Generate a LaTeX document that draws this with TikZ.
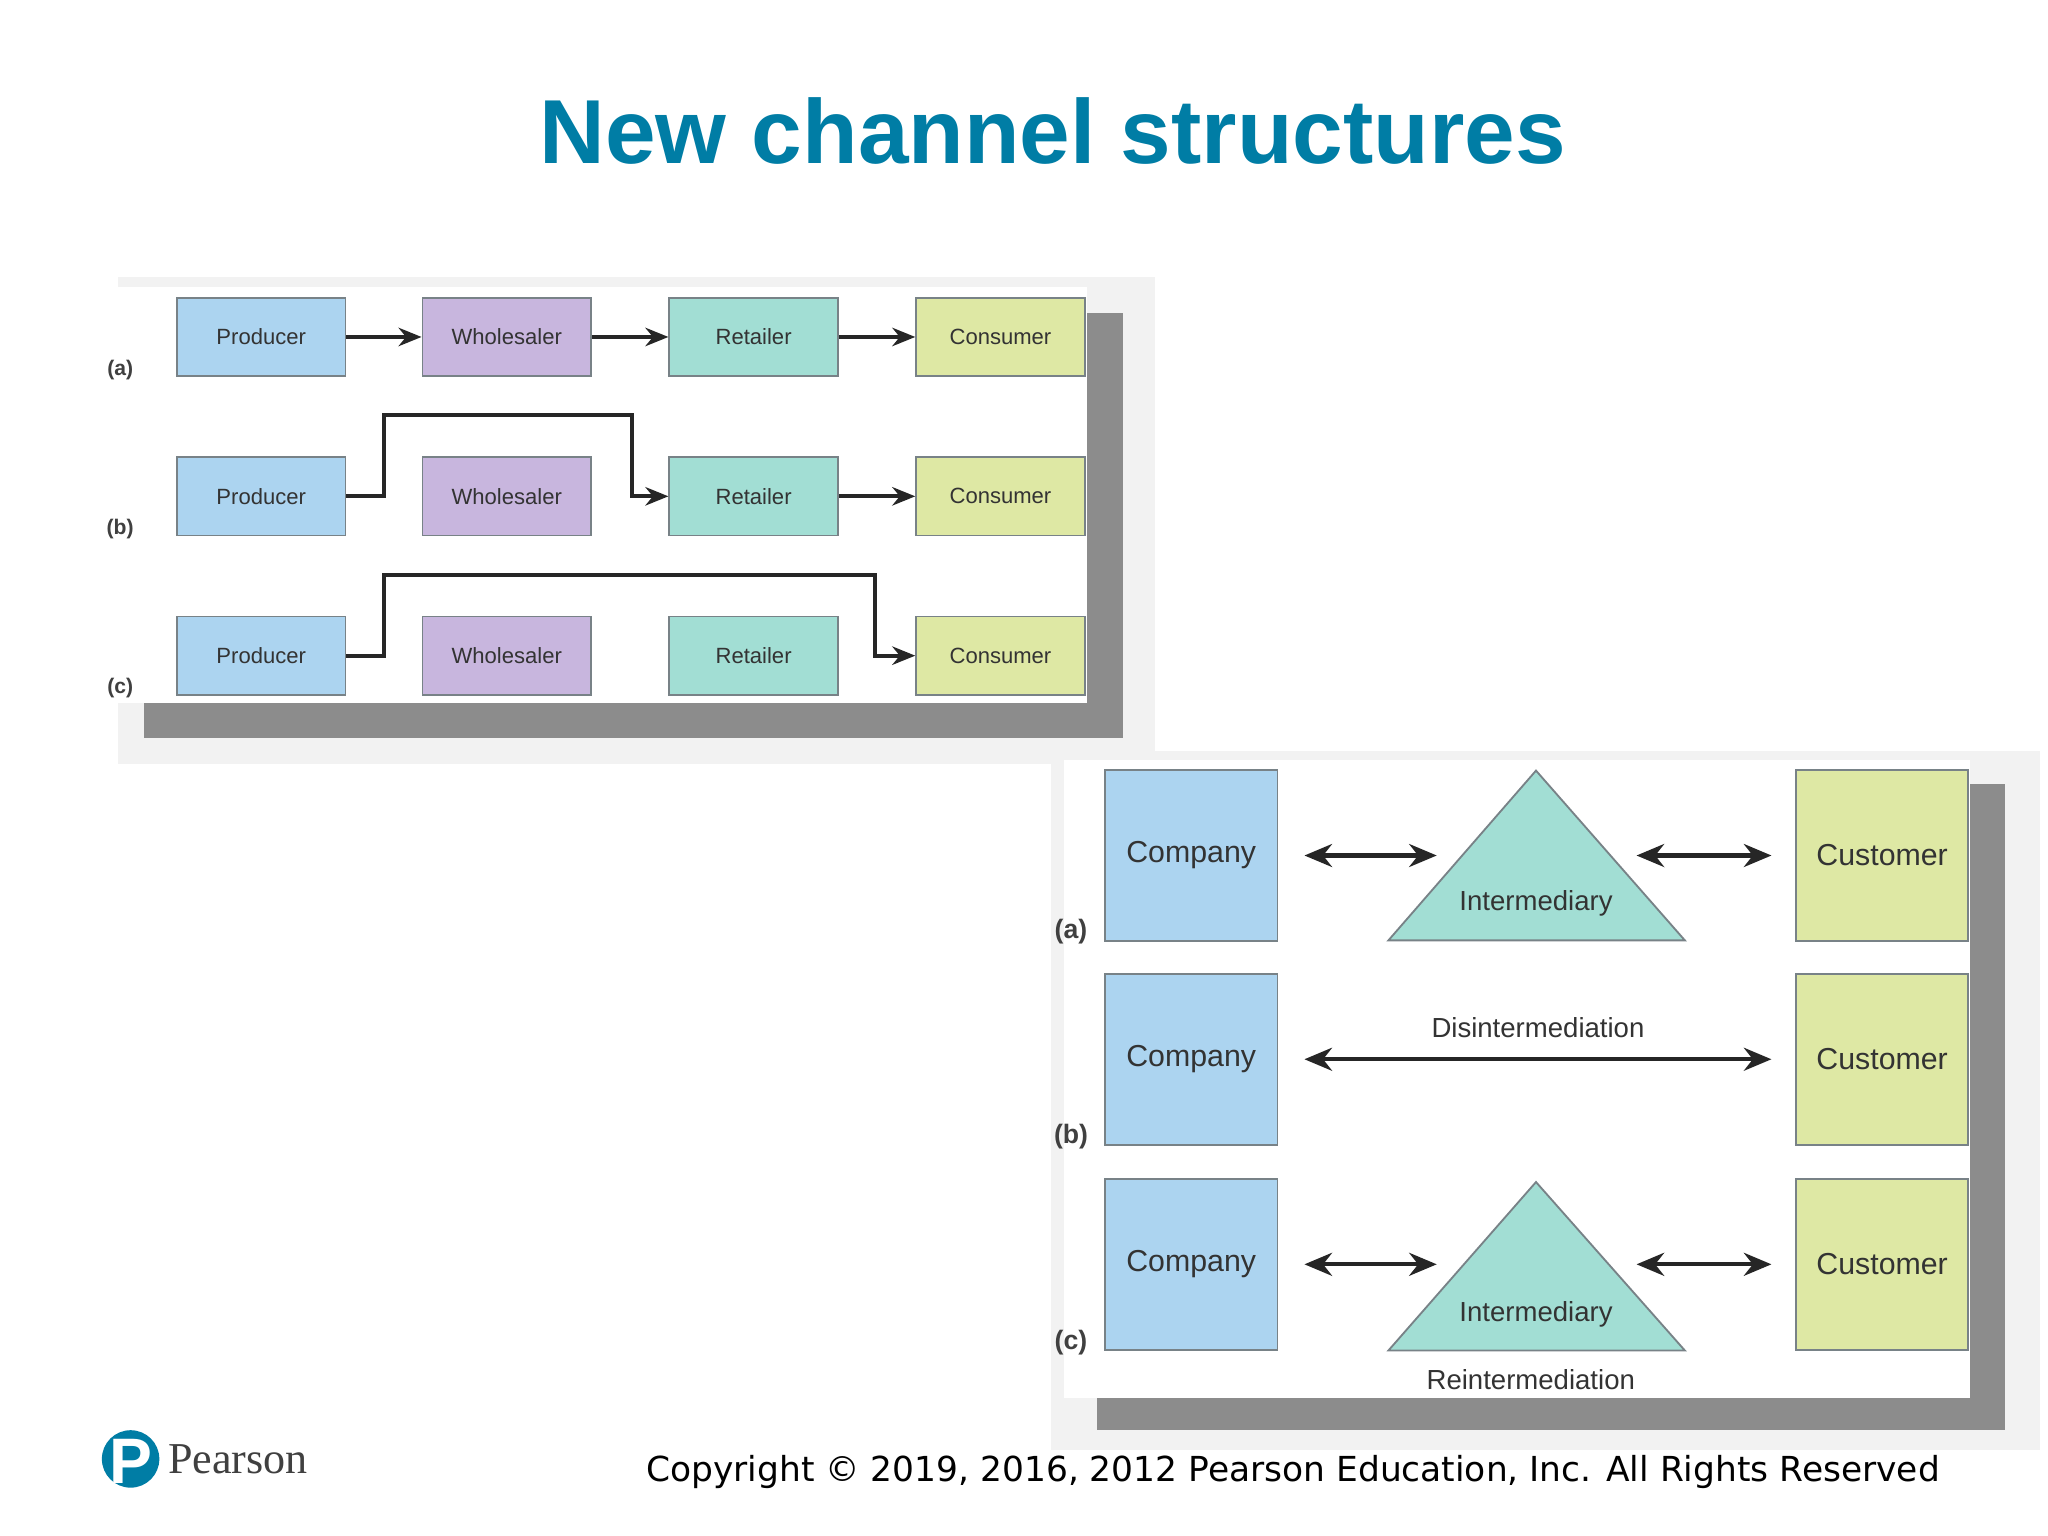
\documentclass[tikz,border=0pt]{standalone}
\usepackage{fontspec}
\setmainfont{Liberation Sans}
\newfontfamily\copyfont{DejaVu Sans}
\newfontfamily\logofont{Liberation Serif}
\usetikzlibrary{positioning, arrows.meta, calc}
\definecolor{titleblue}{RGB}{0,125,165}
\definecolor{boxblue}{RGB}{172,212,240}
\definecolor{boxpurple}{RGB}{200,182,222}
\definecolor{boxteal}{RGB}{162,222,212}
\definecolor{boxgreen}{RGB}{222,232,164}
\definecolor{rimgray}{RGB}{120,130,135}
\tikzset{
    chan/.style = {draw=rimgray, minimum width=1.29cm, minimum height=0.6cm, inner sep=0pt, font=\fontsize{4.8}{5}\selectfont, text=black!80},
    party/.style = {draw=rimgray, minimum width=1.32cm, minimum height=1.31cm, inner sep=0pt, font=\fontsize{6.6}{7}\selectfont, text=black!80},
    tri/.style = {draw=rimgray, fill=boxteal},
    tag/.style = {font=\fontsize{4.6}{5}\selectfont\bfseries, text=black!75},
    bigtag/.style = {font=\fontsize{5.8}{6}\selectfont\bfseries, text=black!75},
    flow/.style = {-{Stealth[length=5pt,width=4pt]}, line width=0.9pt, black!85},
    both/.style = {{Stealth[length=6pt,width=5pt]}-{Stealth[length=6pt,width=5pt]}, line width=0.9pt, black!85},
    note/.style = {font=\fontsize{6}{7}\selectfont, text=black!80}
}
\begin{document}
\begin{tikzpicture}[x=0.01cm, y=-0.01cm]
\useasboundingbox (0,0) rectangle (1568,1176);
% title
\node (title) at (806,100) {\fontsize{19.8}{23}\selectfont\bfseries\color{titleblue} New channel structures};
% top panel with shadow
\fill[black!5] (90,212) rectangle (884,585);
\fill[black!45] (110,240) rectangle (860,565);
\fill[white] (80,220) rectangle (832,538);
\foreach \r/\y/\t in {a/258/283, b/380/405, c/502/527}{
    \node[chan, fill=boxblue]   (prod\r) at (200,\y) {Producer};
    \node[chan, fill=boxpurple] (whol\r) at (388,\y) {Wholesaler};
    \node[chan, fill=boxteal]   (ret\r)  at (577,\y) {Retailer};
    \node[chan, fill=boxgreen]  (con\r)  at (766,\y) {Consumer};
    \node[tag] (lab\r) at (92,\t) {(\r)};
}
\draw[flow] (proda) -- (whola);
\draw[flow] (whola) -- (reta);
\draw[flow] (reta) -- (cona);
\coordinate (upb) at (294,318);
\coordinate (upc) at (294,440);
\draw[flow] (prodb.east) -| (upb) -| ($(retb.west)+(-28,0)$) -- (retb.west);
\draw[flow] (retb) -- (conb);
\draw[flow] (prodc.east) -| (upc) -| ($(conc.west)+(-31,0)$) -- (conc.west);
% bottom panel with shadow
\fill[black!5] (805,575) rectangle (1562,1110);
\fill[black!45] (840,600) rectangle (1535,1095);
\fill[white] (815,582) rectangle (1508,1070);
\foreach \r/\y/\t in {a/655/713, b/811/870, c/968/1028}{
    \node[party, fill=boxblue]  (comp\r) at (912,\y) {Company};
    \node[party, fill=boxgreen] (cust\r) at (1441,\y) {Customer};
    \node[bigtag] (big\r) at (820,\t) {(\r)};
}
\draw[tri] (1176,590) -- (1290,720) -- (1063,720) -- cycle;
\draw[tri] (1176,905) -- (1290,1034) -- (1063,1034) -- cycle;
\node[note] (intera) at (1176,692) {Intermediary};
\node[note] (interc) at (1176,1006) {Intermediary};
\coordinate (tla) at (1100,655);
\coordinate (tra) at (1253,655);
\coordinate (tlc) at (1100,968);
\coordinate (trc) at (1253,968);
\draw[both] ($(compa.east)+(20,0)$) -- (tla);
\draw[both] (tra) -- ($(custa.west)+(-18,0)$);
\draw[both] ($(compb.east)+(20,0)$) -- ($(custb.west)+(-18,0)$)
    node[note, midway, above=1pt] (dis) {Disintermediation};
\draw[both] ($(compc.east)+(20,0)$) -- (tlc);
\draw[both] (trc) -- ($(custc.west)+(-18,0)$);
\node[note] (reint) at (1172,1056) {Reintermediation};
% footer
\fill[titleblue] (100,1117) circle (22);
\node[text=white] (plogo) at (100,1119) {\fontsize{14}{14}\selectfont\bfseries P};
\node[anchor=west, text=black!75, inner sep=0pt] (pname) at (128,1117) {\logofont\fontsize{9.6}{12}\selectfont Pearson};
\node (copy) at (990,1127) {\copyfont\fontsize{7.5}{9}\selectfont Copyright \textcopyright{} 2019, 2016, 2012 Pearson Education, Inc. All Rights Reserved};
\end{tikzpicture}
\end{document}
